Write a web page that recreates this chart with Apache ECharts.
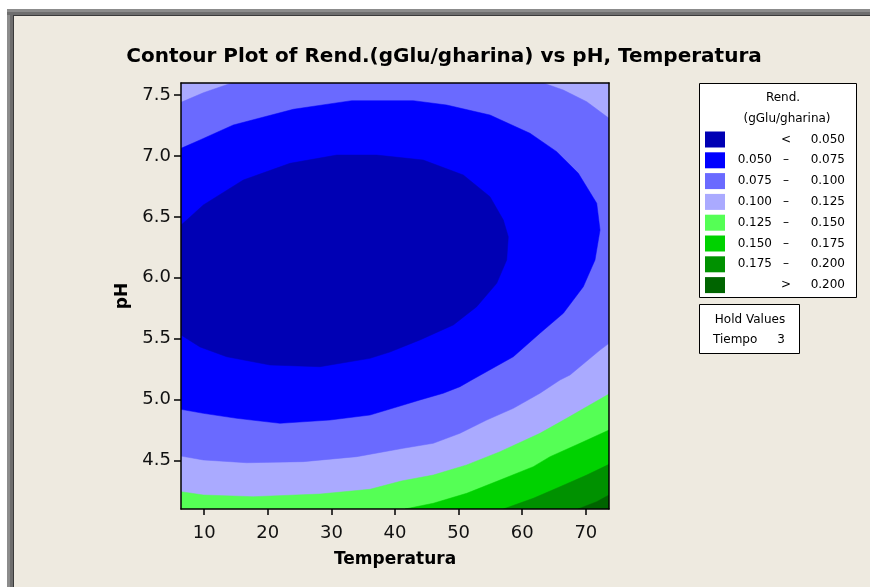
<!DOCTYPE html>
<html>
<head>
<meta charset="utf-8">
<script src="https://cdn.jsdelivr.net/npm/echarts@6/dist/echarts.min.js"></script>
<style>
html,body{margin:0;padding:0;background:#fff;}
#chart{width:870px;height:587px;}
</style>
</head>
<body>
<div id="chart"></div>
<script>
// ---------- data ----------
const titleText = 'Contour Plot of Rend.(gGlu/gharina) vs pH, Temperatura';
const xName = 'Temperatura';
const yName = 'pH';
const tempRange = [6.36, 73.64];
const phRange = [4.1, 7.6];
const tempTicks = [10, 20, 30, 40, 50, 60, 70];
const phTicks = [4.5, 5.0, 5.5, 6.0, 6.5, 7.0, 7.5];

// contour lines, points are [Temperatura, pH]
const c050 = [[6.36,6.433],[7.26,6.474],[9.87,6.598],[16.15,6.803],[23.49,6.940],[30.84,7.008],[37.12,7.008],[44.45,6.967],[50.74,6.844],[54.93,6.666],[57.03,6.474],[57.81,6.337],[57.56,6.146],[55.99,5.954],[52.84,5.762],[49.17,5.612],[43.93,5.489],[39.21,5.390],[36.07,5.338],[28.21,5.269],[20.35,5.283],[13.54,5.351],[9.35,5.431],[6.36,5.530]];
const c075 = [[6.36,7.063],[9.35,7.132],[14.58,7.255],[24.01,7.384],[33.19,7.455],[42.88,7.455],[48.13,7.419],[54.93,7.337],[61.22,7.187],[65.42,7.036],[68.82,6.858],[71.71,6.612],[72.23,6.392],[71.44,6.146],[69.60,5.926],[66.46,5.708],[62.79,5.544],[58.60,5.351],[52.06,5.160],[50.22,5.105],[47.59,5.051],[43.93,4.996],[40.79,4.946],[36.07,4.872],[29.78,4.831],[21.92,4.804],[15.12,4.845],[9.87,4.886],[6.36,4.919]];
const c100TopLeft = [[6.36,7.441],[9.87,7.520],[14.33,7.6]];
const c100TopRight = [[63.31,7.6],[66.46,7.542],[70.14,7.446],[73.64,7.310]];
const c100Bottom = [[73.64,5.461],[72.23,5.406],[67.51,5.201],[65.94,5.160],[62.79,5.051],[58.60,4.927],[54.42,4.831],[50.22,4.722],[46.02,4.640],[41.31,4.599],[33.98,4.530],[25.59,4.489],[16.69,4.480],[9.87,4.503],[6.36,4.535]];
const c125 = [[6.36,4.242],[9.87,4.215],[17.73,4.201],[28.21,4.223],[36.07,4.262],[41.0,4.330],[46.02,4.379],[51.27,4.462],[56.51,4.571],[62.79,4.722],[66.99,4.845],[70.14,4.940],[73.64,5.045]];
const c150 = [[41.57,4.1],[46.02,4.147],[51.27,4.229],[56.51,4.338],[61.74,4.448],[64.37,4.530],[69.08,4.640],[73.64,4.749]];
const c175 = [[57.03,4.1],[61.74,4.188],[65.94,4.283],[70.14,4.379],[73.64,4.467]];
const c200 = [[68.77,4.1],[71.71,4.160],[73.64,4.215]];

// legend
const legendTitle = ['Rend.', '(gGlu/gharina)'];
const legendLow  = ['', '0.050', '0.075', '0.100', '0.125', '0.150', '0.175', ''];
const legendOp   = ['<', '\u2013', '\u2013', '\u2013', '\u2013', '\u2013', '\u2013', '>'];
const legendHigh = ['0.050', '0.075', '0.100', '0.125', '0.150', '0.175', '0.200', '0.200'];
const holdLabels = ['Hold Values', 'Tiempo', '3'];

// ---------- styling ----------
const levelColors = ['#0000B4', '#0000FF', '#6A6AFF', '#AAAAFF', '#55FF55', '#00D200', '#009100', '#006400'];
const FONT = 'DejaVu Sans';

// regions in painting order (plot background = level 3)
const xMin = tempRange[0], xMax = tempRange[1], yMin = phRange[0];
const regions = [
  { pts: c125.concat([[xMax, yMin], [xMin, yMin]]), level: 4 },
  { pts: c150.concat([[xMax, yMin]]), level: 5 },
  { pts: c175.concat([[xMax, yMin]]), level: 6 },
  { pts: c200.concat([[xMax, yMin]]), level: 7 },
  { pts: c100TopLeft.concat(c100TopRight, c100Bottom), level: 2 },
  { pts: c075, level: 1 },
  { pts: c050, level: 0 }
];

const chart = echarts.init(document.getElementById('chart'), null, { renderer: 'canvas' });

const graphics = [];
// outer frame
graphics.push({ type: 'rect', shape: { x: 0, y: 0, width: 870, height: 9 }, style: { fill: '#ffffff' }, silent: true });
graphics.push({ type: 'rect', shape: { x: 0, y: 0, width: 7, height: 587 }, style: { fill: '#ffffff' }, silent: true });
graphics.push({ type: 'rect', shape: { x: 7, y: 9, width: 863, height: 6 }, style: { fill: '#8c8c8c' }, silent: true });
graphics.push({ type: 'rect', shape: { x: 7, y: 9, width: 6, height: 578 }, style: { fill: '#8c8c8c' }, silent: true });
graphics.push({ type: 'rect', shape: { x: 7, y: 12, width: 863, height: 3 }, style: { fill: '#6e6e6e' }, silent: true });
graphics.push({ type: 'rect', shape: { x: 10, y: 12, width: 3, height: 575 }, style: { fill: '#6e6e6e' }, silent: true });
graphics.push({ type: 'rect', shape: { x: 13, y: 15, width: 857, height: 1 }, style: { fill: '#3a3a3a' }, silent: true });
graphics.push({ type: 'rect', shape: { x: 13, y: 15, width: 1, height: 572 }, style: { fill: '#3a3a3a' }, silent: true });

// title
graphics.push({ type: 'text', x: 444, y: 57, style: { text: titleText, font: 'bold 20px "' + FONT + '"', fill: '#000', align: 'center', verticalAlign: 'middle' } });

// legend box
const lgX = 699, lgY = 83;
graphics.push({ type: 'rect', shape: { x: lgX + 0.5, y: lgY + 0.5, width: 157, height: 214 }, style: { fill: '#ffffff', stroke: '#000', lineWidth: 1 } });
graphics.push({ type: 'text', x: 783, y: 98, style: { text: legendTitle[0], font: '12px "' + FONT + '"', fill: '#000', align: 'center', verticalAlign: 'middle' } });
graphics.push({ type: 'text', x: 787, y: 119, style: { text: legendTitle[1], font: '12px "' + FONT + '"', fill: '#000', align: 'center', verticalAlign: 'middle' } });
for (let i = 0; i < legendHigh.length; i++) {
  const cy = 139.5 + i * 20.8;
  graphics.push({ type: 'rect', shape: { x: 705, y: cy - 8, width: 20, height: 16 }, style: { fill: levelColors[i] } });
  if (legendLow[i]) graphics.push({ type: 'text', x: 772, y: cy, style: { text: legendLow[i], font: '12px "' + FONT + '"', fill: '#000', align: 'right', verticalAlign: 'middle' } });
  graphics.push({ type: 'text', x: 786, y: cy, style: { text: legendOp[i], font: '12px "' + FONT + '"', fill: '#000', align: 'center', verticalAlign: 'middle' } });
  graphics.push({ type: 'text', x: 845, y: cy, style: { text: legendHigh[i], font: '12px "' + FONT + '"', fill: '#000', align: 'right', verticalAlign: 'middle' } });
}
// hold values box
graphics.push({ type: 'rect', shape: { x: 699.5, y: 304.5, width: 100, height: 49 }, style: { fill: '#ffffff', stroke: '#000', lineWidth: 1 } });
graphics.push({ type: 'text', x: 750, y: 319.5, style: { text: holdLabels[0], font: '12px "' + FONT + '"', fill: '#000', align: 'center', verticalAlign: 'middle' } });
graphics.push({ type: 'text', x: 713, y: 340, style: { text: holdLabels[1], font: '12px "' + FONT + '"', fill: '#000', align: 'left', verticalAlign: 'middle' } });
graphics.push({ type: 'text', x: 781, y: 340, style: { text: holdLabels[2], font: '12px "' + FONT + '"', fill: '#000', align: 'center', verticalAlign: 'middle' } });

const axisText = { fontFamily: FONT, fontSize: 18, color: '#111' };

const option = {
  backgroundColor: '#EEEAE0',
  animation: false,
  grid: {
    left: 181, top: 83, width: 428, height: 426,
    show: true, backgroundColor: levelColors[3], borderWidth: 0,
    containLabel: false, outerBoundsMode: 'none'
  },
  xAxis: [{
    type: 'value', min: tempRange[0], max: tempRange[1], z: 10,
    name: xName, nameLocation: 'middle', nameGap: 42,
    nameTextStyle: { fontFamily: FONT, fontSize: 17, fontWeight: 'bold', color: '#000' },
    axisLine: { show: true, onZero: false, lineStyle: { color: '#000', width: 1.5 } },
    axisTick: { show: true, length: 6, customValues: tempTicks, lineStyle: { color: '#000', width: 1.5 } },
    axisLabel: Object.assign({ margin: 15, customValues: tempTicks, formatter: v => String(v) }, axisText),
    splitLine: { show: false }
  }, {
    type: 'value', min: tempRange[0], max: tempRange[1], position: 'top', z: 10,
    axisLine: { show: true, onZero: false, lineStyle: { color: '#000', width: 1.5 } },
    axisTick: { show: false }, axisLabel: { show: false }, splitLine: { show: false }
  }],
  yAxis: [{
    type: 'value', min: phRange[0], max: phRange[1], z: 10,
    name: yName, nameLocation: 'middle', nameGap: 50,
    nameTextStyle: { fontFamily: FONT, fontSize: 17, fontWeight: 'bold', color: '#000' },
    axisLine: { show: true, onZero: false, lineStyle: { color: '#000', width: 1.5 } },
    axisTick: { show: true, length: 7, customValues: phTicks, lineStyle: { color: '#000', width: 1.5 } },
    axisLabel: Object.assign({ margin: 10, padding: [5, 0, 0, 0], customValues: phTicks, formatter: v => v.toFixed(1) }, axisText),
    splitLine: { show: false }
  }, {
    type: 'value', min: phRange[0], max: phRange[1], position: 'right', z: 10,
    axisLine: { show: true, onZero: false, lineStyle: { color: '#000', width: 1.5 } },
    axisTick: { show: false }, axisLabel: { show: false }, splitLine: { show: false }
  }],
  series: [{
    type: 'custom',
    coordinateSystem: 'cartesian2d',
    xAxisIndex: 0, yAxisIndex: 0,
    clip: true,
    silent: true,
    encode: { x: 0, y: 1 },
    data: regions.map(r => r.pts[0]),
    renderItem: function (params, api) {
      const r = regions[params.dataIndex];
      const pts = r.pts.map(p => api.coord(p));
      return { type: 'polygon', shape: { points: pts }, style: { fill: levelColors[r.level], stroke: levelColors[r.level], lineWidth: 0.5 } };
    }
  }],
  graphic: graphics
};
chart.setOption(option);
</script>
</body>
</html>
